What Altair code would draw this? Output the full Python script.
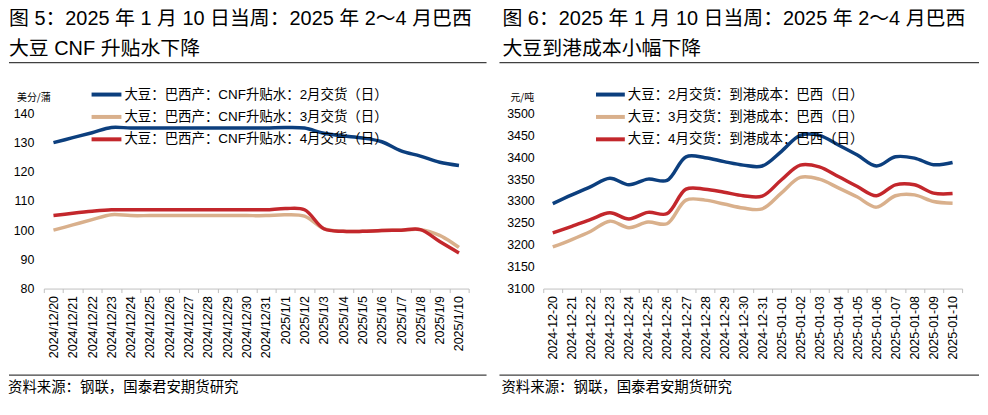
import altair as alt
import pandas as pd

# ---------------- data ----------------
dates_left = ["2024/12/20", "2024/12/21", "2024/12/22", "2024/12/23", "2024/12/24",
              "2024/12/25", "2024/12/26", "2024/12/27", "2024/12/28", "2024/12/29",
              "2024/12/30", "2024/12/31", "2025/1/1", "2025/1/2", "2025/1/3",
              "2025/1/4", "2025/1/5", "2025/1/6", "2025/1/7", "2025/1/8",
              "2025/1/9", "2025/1/10"]
dates_right = ["2024-12-20", "2024-12-21", "2024-12-22", "2024-12-23", "2024-12-24",
               "2024-12-25", "2024-12-26", "2024-12-27", "2024-12-28", "2024-12-29",
               "2024-12-30", "2024-12-31", "2025-01-01", "2025-01-02", "2025-01-03",
               "2025-01-04", "2025-01-05", "2025-01-06", "2025-01-07", "2025-01-08",
               "2025-01-09", "2025-01-10"]

cnf_feb = [130, 131.7, 133.4, 135.2, 135, 135, 135, 135, 135, 135, 135, 135,
           135.2, 135, 133.2, 132.3, 131.6, 130.3, 127.2, 125.4, 123.3, 122.2]
cnf_mar = [100, 101.8, 103.6, 105.3, 105, 105, 105, 105, 105, 105, 105, 105,
           105.3, 104.8, 100.5, 99.6, 99.6, 99.9, 100, 100.2, 98.2, 94.1]
cnf_apr = [105, 105.8, 106.5, 107, 107, 107, 107, 107, 107, 107, 107, 107,
           107.4, 107, 100.5, 99.6, 99.6, 99.9, 100, 100.2, 96.1, 92.2]

cost_feb = [3294, 3314, 3333, 3352, 3337, 3350, 3347, 3401, 3399, 3390, 3382, 3380,
            3413, 3450, 3450, 3428, 3405, 3380, 3401, 3398, 3383, 3388]
cost_mar = [3195, 3212, 3231, 3254, 3239, 3252, 3248, 3302, 3302, 3293, 3284, 3282,
            3318, 3354, 3350, 3330, 3309, 3286, 3312, 3314, 3299, 3295]
cost_apr = [3227, 3242, 3258, 3273, 3259, 3274, 3271, 3327, 3327, 3320, 3312, 3311,
            3348, 3382, 3378, 3356, 3333, 3312, 3337, 3337, 3318, 3317]

names_left = ["大豆：巴西产：CNF升贴水：2月交货（日）",
              "大豆：巴西产：CNF升贴水：3月交货（日）",
              "大豆：巴西产：CNF升贴水：4月交货（日）"]
names_right = ["大豆：2月交货：到港成本：巴西（日）",
               "大豆：3月交货：到港成本：巴西（日）",
               "大豆：4月交货：到港成本：巴西（日）"]

ticks_left = [80, 90, 100, 110, 120, 130, 140]
ticks_right = [3100, 3150, 3200, 3250, 3300, 3350, 3400, 3450, 3500]

title_left = ["图 5：2025 年 1 月 10 日当周：2025 年 2～4 月巴西", "大豆 CNF 升贴水下降"]
title_right = ["图 6：2025 年 1 月 10 日当周：2025 年 2～4 月巴西", "大豆到港成本小幅下降"]
unit_left = "美分/蒲"
unit_right = "元/吨"
source_text = "资料来源：钢联，国泰君安期货研究"

colors = ["#0C3F7E", "#D9B08C", "#C3272C"]

LAT = "Liberation Sans, Arial, Noto Sans CJK SC"
CJK = "Noto Sans CJK SC"


def one_text(txt, x, y, size, font=LAT, color="#000000", baseline="middle"):
    return alt.Chart(alt.Data(values=[{"t": txt}])).mark_text(
        align="left", baseline=baseline, fontSize=size, font=font, color=color
    ).encode(x=alt.value(x), y=alt.value(y), text="t:N")


def one_rule(x1, x2, y, color="#404040", width=1.3):
    return alt.Chart(alt.Data(values=[{"k": 0}])).mark_rule(
        color=color, strokeWidth=width
    ).encode(x=alt.value(x1), x2=alt.value(x2), y=alt.value(y))


def panel(dates, series, names, ydomain, yticks, title, unit, W, geo):
    rows = []
    for name, vals in zip(names, series):
        for d, v in zip(dates, vals):
            rows.append({"date": d, "value": v, "series": name})
    df = pd.DataFrame(rows)

    lines = alt.Chart(df).mark_line(strokeWidth=3.5, interpolate="catmull-rom").encode(
        x=alt.X("date:N", sort=dates, bandPosition=0.5, title=None,
                scale=alt.Scale(type="band", paddingInner=0, paddingOuter=0),
                axis=alt.Axis(labelAngle=270, labelAlign="right", labelBaseline="middle",
                              labelFont="Liberation Sans", labelFontSize=12.5,
                              labelColor="#000000", domainColor="#BFBFBF",
                              tickColor="#BFBFBF", tickSize=4, tickBand="extent",
                              labelPadding=3, grid=False, labelOverlap=False)),
        y=alt.Y("value:Q", title=None,
                scale=alt.Scale(domain=ydomain, nice=False, zero=False),
                axis=alt.Axis(values=yticks, format="d", domain=False, ticks=False, grid=False,
                              labelFont="Liberation Sans", labelFontSize=12.5,
                              labelColor="#000000", labelPadding=geo["lpad"])),
        color=alt.Color("series:N", scale=alt.Scale(domain=names, range=colors), legend=None),
    )

    layers = [lines]
    # titles
    layers.append(one_text(title[0], geo["tx"], -95, 20, font=LAT))
    layers.append(one_text(title[1], geo["tx"], -65, 20, font=LAT))
    # top and bottom rules
    layers.append(one_rule(geo["rx1"], geo["rx2"], -51))
    layers.append(one_rule(geo["rx1"], geo["rx2"], 263))
    # unit
    layers.append(one_text(unit, geo["ux"], -16, 10, font=CJK))
    # legend
    for i, (name, col) in enumerate(zip(names, colors)):
        yy = -19 + i * 22.5
        layers.append(one_rule(geo["lx1"], geo["lx2"], yy, color=col, width=4))
        layers.append(one_text(name, geo["lx2"] + 3, yy, 13.5, font=LAT))
    # source
    layers.append(one_text(source_text, geo["sx"], 276, 14.5, font=CJK))

    return alt.layer(*layers).properties(width=W, height=176)


left = panel(dates_left, [cnf_feb, cnf_mar, cnf_apr], names_left, [80, 140], ticks_left,
             title_left, unit_left, 427,
             dict(tx=-35, rx1=-35, rx2=445, ux=-27, lx1=48, lx2=78, sx=-36, lpad=10))
right = panel(dates_right, [cost_feb, cost_mar, cost_apr], names_right, [3100, 3500], ticks_right,
              title_right, unit_right, 421,
              dict(tx=-41, rx1=-44, rx2=438, ux=-33, lx1=53, lx2=82, sx=-42, lpad=9))

chart = alt.hconcat(left, right, spacing=11).properties(
    padding=0, background="#FFFFFF"
).configure_view(stroke=None)

chart.save("out.html", embed_options={"renderer": "svg", "actions": False})
